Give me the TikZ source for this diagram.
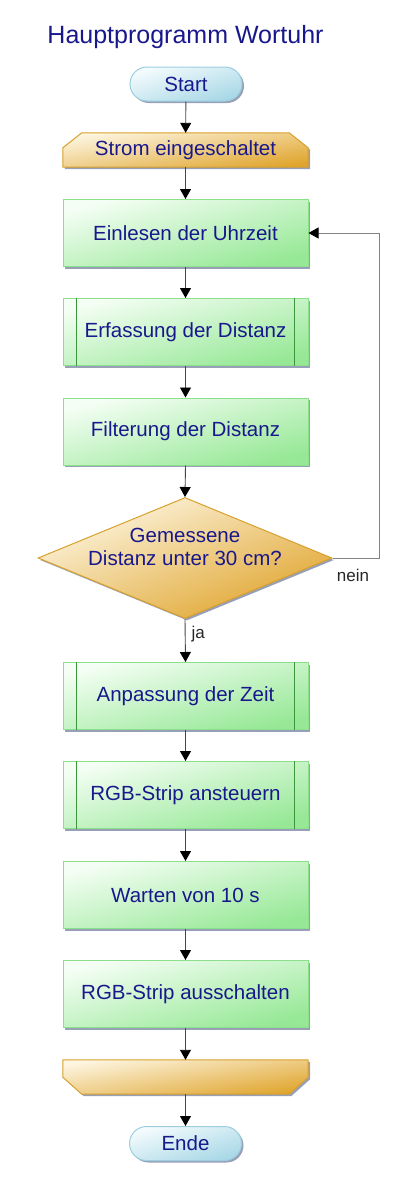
\documentclass[tikz,border=0pt]{standalone}
\usepackage{fontspec}
\setmainfont{Liberation Sans}
\usetikzlibrary{shapes.geometric,arrows.meta,shadows,backgrounds}
\definecolor{txt}{RGB}{24,24,140}
\definecolor{glight}{RGB}{244,254,244}
\definecolor{gdark}{RGB}{150,232,150}
\definecolor{gborder}{RGB}{140,224,140}
\definecolor{gline}{RGB}{60,150,60}
\definecolor{olight}{RGB}{253,246,226}
\definecolor{odark}{RGB}{224,165,46}
\definecolor{oborder}{RGB}{216,160,44}
\definecolor{blight}{RGB}{244,251,253}
\definecolor{bdark}{RGB}{168,216,230}
\definecolor{bborder}{RGB}{156,206,224}
\definecolor{shadowc}{RGB}{140,150,175}
\definecolor{conn}{RGB}{70,70,70}
\definecolor{fbconn}{RGB}{130,130,130}
\begin{document}
\begin{tikzpicture}[x=1pt,y=1pt,
  shad/.style={drop shadow={shadow xshift=2pt,shadow yshift=-2pt,fill=shadowc,opacity=0.9}},
  boxtext/.style={text=txt,font=\fontsize{20.5}{23}\selectfont},
  gbox/.style={rectangle,draw=gborder,line width=1pt,top color=glight,bottom color=gdark,shading angle=15,
    minimum width=245pt,minimum height=67pt,inner sep=0pt,shad,boxtext},
  pill/.style={rectangle,rounded corners=17pt,draw=bborder,line width=1pt,top color=blight,bottom color=bdark,shading angle=17,
    minimum width=112pt,minimum height=34pt,inner sep=0pt,shad,boxtext},
  loopnode/.style={rectangle,minimum width=245pt,minimum height=34pt,inner sep=0pt,boxtext},
  obox/.style={draw=oborder,line width=1pt,top color=olight,bottom color=odark,shading angle=9,shad},
  decision/.style={diamond,draw=oborder,line width=1pt,top color=olight,bottom color=odark,shading angle=22,
    minimum width=294pt,minimum height=121pt,inner sep=0pt,shad},
  subline/.style={draw=gline,line width=0.9pt},
  flow/.style={draw=conn,line width=0.9pt,-{Triangle[length=10pt,width=11pt,color=black]}},
  fb/.style={draw=fbconn,line width=0.9pt,-{Triangle[length=10pt,width=11pt,color=black]}},
  lbl/.style={text=black!85,font=\fontsize{17}{20}\selectfont,inner sep=0pt}
]
\useasboundingbox (0,0) rectangle (411,-1192);

\node[text=txt,font=\fontsize{25}{30}\selectfont] (title) at (185.5,-37) {Hauptprogramm Wortuhr};

\node[pill] (start) at (186,-84) {Start};
\node[loopnode] (strom) at (185.5,-150) {Strom eingeschaltet};
\node[gbox] (e1) at (185.5,-233) {Einlesen der Uhrzeit};
\node[gbox] (e2) at (185.5,-332) {Erfassung der Distanz};
\node[gbox] (e3) at (185.5,-431.5) {Filterung der Distanz};
\node[decision] (d) at (185,-558) {};
\node[boxtext,align=center,inner sep=0pt] (dt) at (185,-547) {Gemessene\\Distanz unter 30 cm?};
\node[gbox] (a1) at (185.5,-696) {Anpassung der Zeit};
\node[gbox] (a2) at (185.5,-795) {RGB-Strip ansteuern};
\node[gbox] (a3) at (185.5,-895) {Warten von 10 s};
\node[gbox] (a4) at (185.5,-994) {RGB-Strip ausschalten};
\node[loopnode] (lend) at (185.5,-1077) {};
\node[pill] (ende) at (185.5,-1143.5) {Ende};

\begin{scope}[on background layer]
  \path[obox] ([xshift=19pt]strom.north west) -- ([xshift=-19pt]strom.north east)
     -- ([yshift=-15pt]strom.north east) -- (strom.south east) -- (strom.south west)
     -- ([yshift=-15pt]strom.north west) -- cycle;
  \path[obox] (lend.north west) -- (lend.north east) -- ([yshift=17pt]lend.south east)
     -- ([xshift=-19pt]lend.south east) -- ([xshift=19pt]lend.south west)
     -- ([yshift=17pt]lend.south west) -- cycle;
\end{scope}

\foreach \n in {e2,a1,a2}{
  \draw[subline] ([xshift=14pt]\n.north west) -- ([xshift=14pt]\n.south west);
  \draw[subline] ([xshift=-14pt]\n.north east) -- ([xshift=-14pt]\n.south east);
}

\draw[flow] (start) -- (strom);
\draw[flow] (strom) -- (e1);
\draw[flow] (e1) -- (e2);
\draw[flow] (e2) -- (e3);
\draw[flow] (e3.south) -- (d.north);
\draw[flow] (d.south) -- node[lbl,right=6pt,pos=0.35] (ja) {ja} (a1.north);
\draw[flow] (a1) -- (a2);
\draw[flow] (a2) -- (a3);
\draw[flow] (a3) -- (a4);
\draw[flow] (a4) -- (lend);
\draw[flow] (lend) -- (ende);

\coordinate (fbc) at (379,-558);
\draw[fb] (d.east) -- (fbc) |- (e1.east);
\node[lbl] (nein) at (353,-575) {nein};
\end{tikzpicture}
\end{document}
